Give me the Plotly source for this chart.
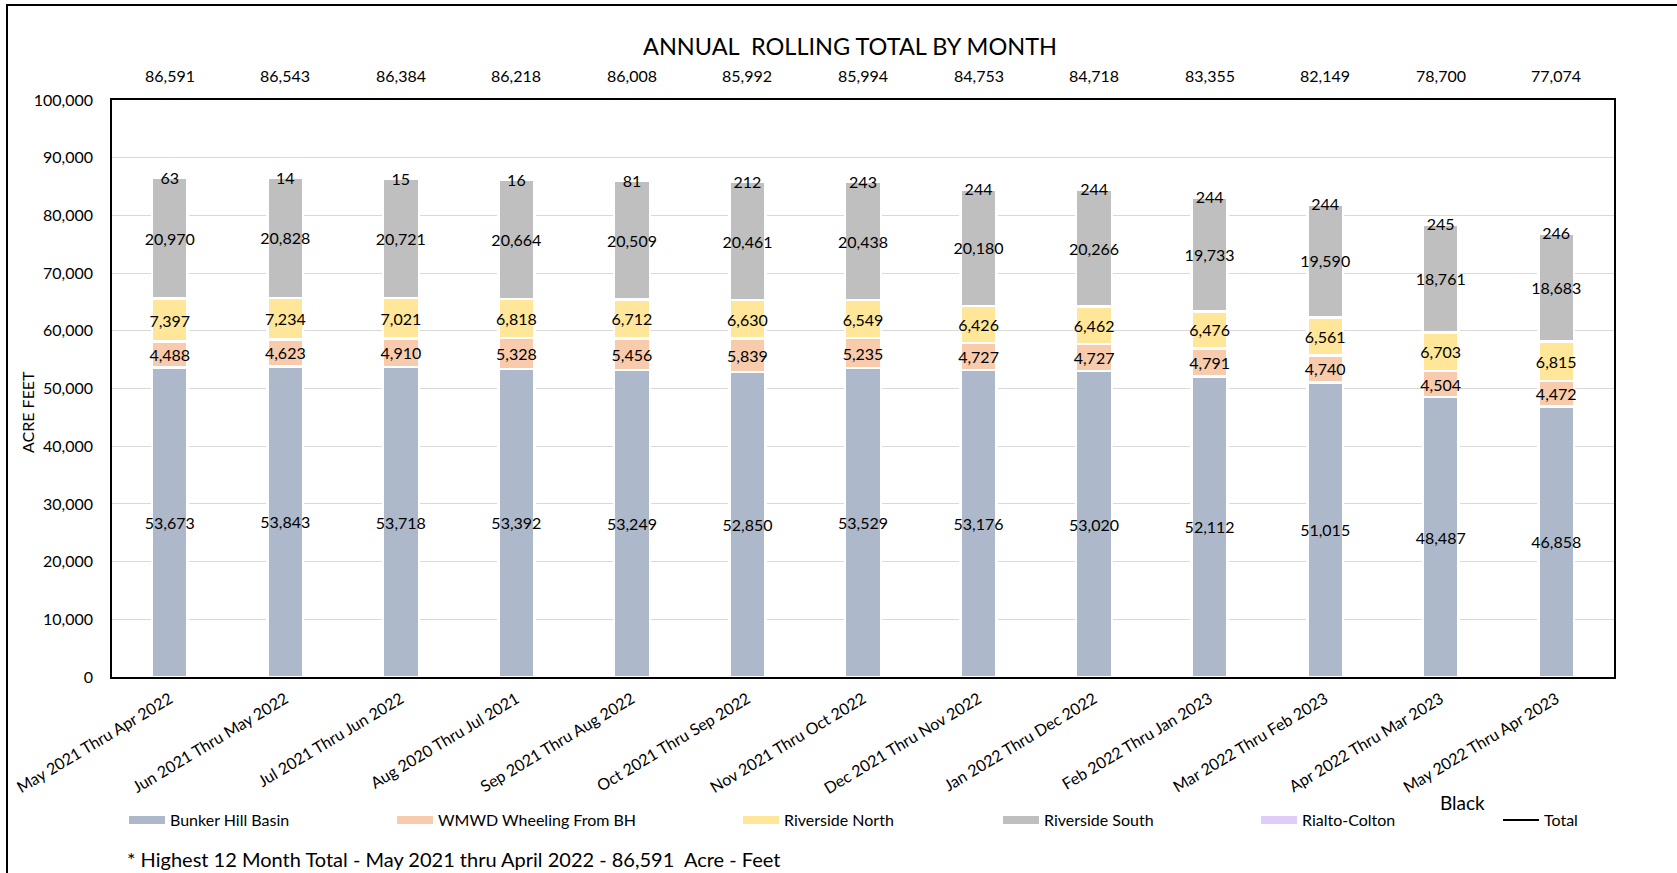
import plotly.graph_objects as go

categories = [
    "May 2021 Thru Apr 2022", "Jun 2021 Thru May 2022", "Jul 2021 Thru Jun 2022",
    "Aug 2020 Thru Jul 2021", "Sep 2021 Thru Aug 2022", "Oct 2021 Thru Sep 2022",
    "Nov 2021 Thru Oct 2022", "Dec 2021 Thru Nov 2022", "Jan 2022 Thru Dec 2022",
    "Feb 2022 Thru Jan 2023", "Mar 2022 Thru Feb 2023", "Apr 2022 Thru Mar 2023",
    "May 2022 Thru Apr 2023",
]
bunker_hill = [53673, 53843, 53718, 53392, 53249, 52850, 53529, 53176, 53020, 52112, 51015, 48487, 46858]
wmwd = [4488, 4623, 4910, 5328, 5456, 5839, 5235, 4727, 4727, 4791, 4740, 4504, 4472]
riverside_north = [7397, 7234, 7021, 6818, 6712, 6630, 6549, 6426, 6462, 6476, 6561, 6703, 6815]
riverside_south = [20970, 20828, 20721, 20664, 20509, 20461, 20438, 20180, 20266, 19733, 19590, 18761, 18683]
rialto_colton = [63, 14, 15, 16, 81, 212, 243, 244, 244, 244, 244, 245, 246]
totals = [86591, 86543, 86384, 86218, 86008, 85992, 85994, 84753, 84718, 83355, 82149, 78700, 77074]

series = [
    ("Bunker Hill Basin", bunker_hill, "#adb9ca"),
    ("WMWD Wheeling From BH", wmwd, "#f8cbad"),
    ("Riverside North", riverside_north, "#ffe699"),
    ("Riverside South", riverside_south, "#bfbfbf"),
    ("Rialto-Colton", rialto_colton, "#e0ccfa"),
]

FONT = "Lato"
W, H = 1677, 873
# plot area in page pixels
L, R, T, B = 112, 1614, 100, 677
PW, PH = R - L, B - T


def px_x(p):
    return (p - L) / PW


def px_y(p):
    return (B - p) / PH


fig = go.Figure()
for name, vals, color in series:
    fig.add_trace(go.Bar(
        x=categories, y=vals, name=name, showlegend=False,
        marker=dict(color=color, line=dict(color="white", width=2.5)),
        text=[f"{v:,}" for v in vals], textposition="inside",
        insidetextanchor="middle", textangle=0, constraintext="none",
        textfont=dict(family=FONT, size=16, color="black"),
        hoverinfo="x+y+name",
    ))

# legend proxies, each in its own legend box
legend_px = [124, 392, 738, 998, 1256, 1498]
legend_names = ["legend", "legend2", "legend3", "legend4", "legend5", "legend6"]
for i, (name, vals, color) in enumerate(series):
    fig.add_trace(go.Scatter(
        x=[None], y=[None], mode="lines", name=name,
        line=dict(color=color, width=8), legend=legend_names[i], showlegend=True,
    ))
fig.add_trace(go.Scatter(
    x=[None], y=[None], mode="lines", name="Total",
    line=dict(color="black", width=2), legend=legend_names[5], showlegend=True,
))

legend_common = dict(orientation="h", xanchor="left", yanchor="middle",
                     y=px_y(820), bgcolor="rgba(0,0,0,0)",
                     font=dict(family=FONT, size=16, color="black"),
                     itemwidth=36, tracegroupgap=0)
layout_legends = {}
for i, ln in enumerate(legend_names):
    layout_legends[ln] = dict(x=px_x(legend_px[i]), **legend_common)

annotations = []
for c, t in zip(categories, totals):
    annotations.append(dict(x=c, xref="x", y=px_y(76), yref="paper", text=f"{t:,}",
                            showarrow=False, xanchor="center", yanchor="middle",
                            font=dict(family=FONT, size=16, color="black")))
annotations.append(dict(x=px_x(27), y=px_y(412), xref="paper", yref="paper", text="ACRE FEET",
                        textangle=-90, showarrow=False, xanchor="center", yanchor="middle",
                        font=dict(family=FONT, size=16, color="black")))
annotations.append(dict(x=px_x(1462), y=px_y(802), xref="paper", yref="paper", text="Black",
                        showarrow=False, xanchor="center", yanchor="middle",
                        font=dict(family=FONT, size=19, color="black")))
annotations.append(dict(x=px_x(125), y=px_y(859), xref="paper", yref="paper",
                        text="* Highest 12 Month Total - May 2021 thru April 2022 - 86,591  Acre - Feet",
                        showarrow=False, xanchor="left", yanchor="middle",
                        font=dict(family=FONT, size=20, color="black")))

fig.update_layout(
    width=W, height=H, autosize=False,
    margin=dict(l=L, r=W - R, t=T, b=H - B, pad=0, autoexpand=False),
    paper_bgcolor="white", plot_bgcolor="white",
    barmode="stack", bargap=0.69,
    title=dict(text="ANNUAL  ROLLING TOTAL BY MONTH", x=px_x(850), xref="paper",
               xanchor="center", y=1 - 47 / H, yanchor="middle",
               font=dict(family=FONT, size=23.5, color="black")),
    font=dict(family=FONT, size=16, color="black"),
    annotations=annotations,
    shapes=[dict(type="rect", xref="paper", yref="paper",
                 x0=px_x(7), x1=px_x(1720), y0=px_y(920), y1=px_y(5),
                 line=dict(color="black", width=2), fillcolor="rgba(0,0,0,0)", layer="below")],
    **layout_legends,
)
fig.update_xaxes(type="category", showline=True, linecolor="black", linewidth=1.5, mirror=True,
                 ticks="", tickangle=-31, layer="below traces", showgrid=False, automargin=False,
                 ticklabelstandoff=5,
                 tickfont=dict(family=FONT, size=16, color="black"))
fig.update_yaxes(range=[0, 100000], dtick=10000, tickformat=",", showline=True, linecolor="black",
                 linewidth=1.5, mirror=True, ticks="", layer="below traces", automargin=False,
                 gridcolor="#d9d9d9", gridwidth=1, zeroline=False, ticklabelstandoff=14,
                 tickfont=dict(family=FONT, size=16, color="black"))

fig.write_html("out.html", config={"displayModeBar": False},
               post_script="document.body.style.margin='0px';")
